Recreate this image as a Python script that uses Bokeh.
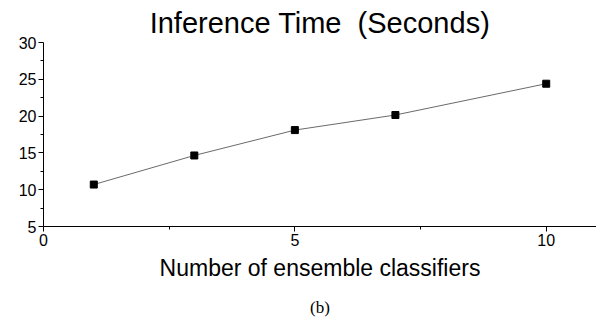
from bokeh.plotting import figure
from bokeh.models import Range1d, FixedTicker, Title
from bokeh.embed import file_html
from bokeh.resources import INLINE

classifiers = [1, 3, 5, 7, 10]
inference_time = [10.7, 14.65, 18.1, 20.15, 24.4]
x_ticks = [0, 5, 10]
x_minor = [2.5, 7.5]
y_ticks = [5, 10, 15, 20, 25, 30]
y_minor = [7.5, 12.5, 17.5, 22.5, 27.5]

FONT = "Liberation Sans"

p = figure(width=596, height=329, output_backend="svg", toolbar_location=None,
           x_range=Range1d(0, 11), y_range=Range1d(5, 30),
           min_border_left=43, min_border_right=0, min_border_top=10, min_border_bottom=0)
p.outline_line_color = None
p.grid.visible = False
p.background_fill_color = "white"
p.border_fill_color = "white"

p.line(classifiers, inference_time, line_color="#444444", line_width=0.8)
p.scatter(classifiers, inference_time, marker="square", size=7, fill_color="black", line_color="black")

p.xaxis.ticker = FixedTicker(ticks=x_ticks, minor_ticks=x_minor)
p.yaxis.ticker = FixedTicker(ticks=y_ticks, minor_ticks=y_minor)
for ax in (p.xaxis, p.yaxis):
    ax.axis_line_color = "black"
    ax.axis_line_width = 1
    ax.major_tick_line_color = "black"
    ax.minor_tick_line_color = "black"
    ax.major_tick_out = 5
    ax.major_tick_in = 0
    ax.minor_tick_out = 3
    ax.minor_tick_in = 0
    ax.major_label_text_font = FONT
    ax.major_label_text_font_size = "16px"
    ax.major_label_text_color = "black"
    ax.major_label_standoff = 2

p.xaxis.axis_label = "Number of ensemble classifiers"
p.xaxis.axis_label_text_font = FONT
p.xaxis.axis_label_text_font_size = "23px"
p.xaxis.axis_label_text_font_style = "normal"
p.xaxis.axis_label_text_color = "black"
p.xaxis.axis_label_standoff = 6

p.title = Title(text="Inference Time \u00a0(Seconds)", align="center",
                text_font=FONT, text_font_size="29px", text_font_style="normal",
                text_color="black", standoff=8)

p.add_layout(Title(text="(b)", align="center", text_font="Liberation Serif",
                   text_font_size="17px", text_font_style="normal",
                   text_color="black", standoff=25), "below")

open("out.html", "w").write(file_html(p, INLINE))
